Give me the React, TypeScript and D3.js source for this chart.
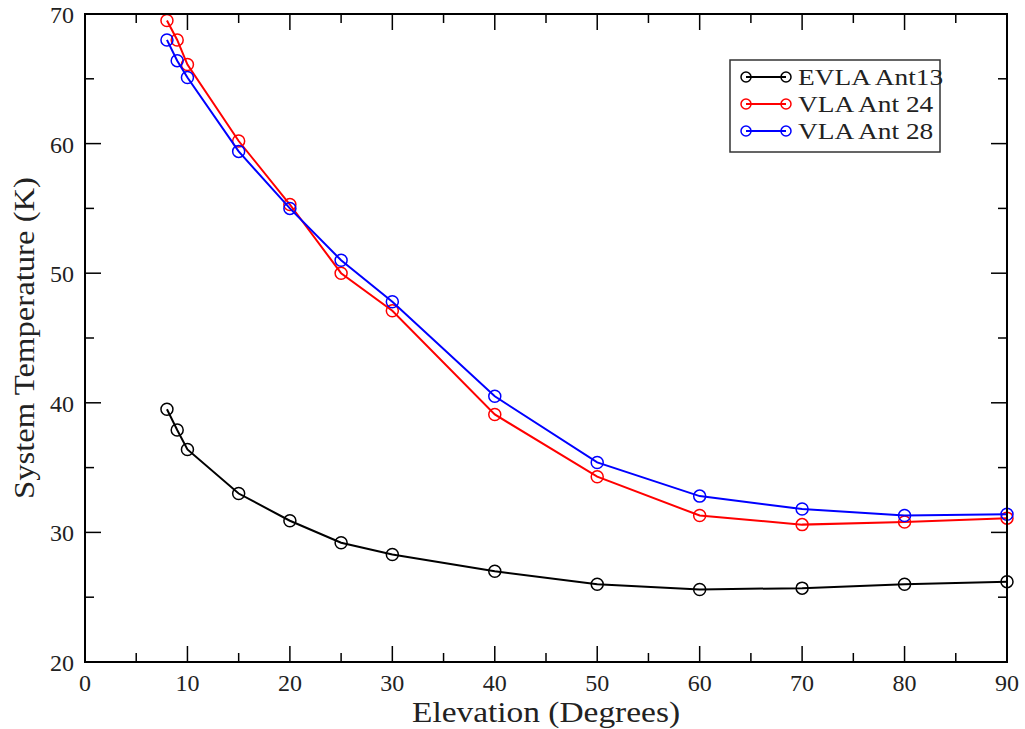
import React, { useEffect, useRef } from "react";
import * as d3 from "d3";

const elevation = [8, 9, 10, 15, 20, 25, 30, 40, 50, 60, 70, 80, 90];
const evlaAnt13 = [39.5, 37.9, 36.4, 33.0, 30.9, 29.2, 28.3, 27.0, 26.0, 25.6, 25.7, 26.0, 26.2];
const vlaAnt24 = [69.5, 68.0, 66.1, 60.2, 55.3, 50.0, 47.1, 39.1, 34.3, 31.3, 30.6, 30.8, 31.1];
const vlaAnt28 = [68.0, 66.4, 65.1, 59.4, 55.0, 51.0, 47.8, 40.5, 35.4, 32.8, 31.8, 31.3, 31.4];
const seriesNames = ["EVLA Ant13", "VLA Ant 24", "VLA Ant 28"];
const seriesColors = ["#000000", "#ff0000", "#0000ff"];
const xTicks = [0, 10, 20, 30, 40, 50, 60, 70, 80, 90];
const yTicks = [20, 30, 40, 50, 60, 70];

const App = () => {
  const ref = useRef<SVGSVGElement>(null);

  useEffect(() => {
    const svg = d3.select(ref.current);
    svg.selectAll("*").remove();

    const left = 85, right = 1007, top = 14, bottom = 662;
    const font = "'Liberation Serif', 'Times New Roman', serif";

    const x = d3.scaleLinear().domain([0, 90]).range([left, right]);
    const y = d3.scaleLinear().domain([20, 70]).range([bottom, top]);

    const allSeries = [evlaAnt13, vlaAnt24, vlaAnt28];

    // curves first, frame on top
    const line = d3
      .line<number>()
      .x((_, i) => x(elevation[i]))
      .y((d) => y(d));

    allSeries.forEach((vals, k) => {
      const g = svg.append("g");
      g.append("path")
        .attr("d", line(vals))
        .attr("fill", "none")
        .attr("stroke", seriesColors[k])
        .attr("stroke-width", 2);
      g.selectAll("circle")
        .data(vals)
        .enter()
        .append("circle")
        .attr("cx", (_, i) => x(elevation[i]))
        .attr("cy", (d) => y(d))
        .attr("r", 6)
        .attr("fill", "none")
        .attr("stroke", seriesColors[k])
        .attr("stroke-width", 1.5);
    });

    const frame = svg.append("g");
    frame
      .append("rect")
      .attr("x", left)
      .attr("y", top)
      .attr("width", right - left)
      .attr("height", bottom - top)
      .attr("fill", "none")
      .attr("stroke", "#000")
      .attr("stroke-width", 2);

    const majorLen = 16, minorLen = 9;
    const xMinor = d3.range(5, 90, 10);
    const yMinor = d3.range(25, 70, 10);

    const tick = (x1: number, y1: number, x2: number, y2: number) =>
      frame
        .append("line")
        .attr("x1", x1)
        .attr("y1", y1)
        .attr("x2", x2)
        .attr("y2", y2)
        .attr("stroke", "#000")
        .attr("stroke-width", 1.5);

    xTicks.forEach((v) => {
      tick(x(v), bottom, x(v), bottom - majorLen);
      tick(x(v), top, x(v), top + majorLen);
    });
    xMinor.forEach((v) => {
      tick(x(v), bottom, x(v), bottom - minorLen);
      tick(x(v), top, x(v), top + minorLen);
    });
    yTicks.forEach((v) => {
      tick(left, y(v), left + majorLen, y(v));
      tick(right, y(v), right - majorLen, y(v));
    });
    yMinor.forEach((v) => {
      tick(left, y(v), left + minorLen, y(v));
      tick(right, y(v), right - minorLen, y(v));
    });

    svg
      .append("g")
      .selectAll("text")
      .data(xTicks)
      .enter()
      .append("text")
      .attr("x", (d) => x(d))
      .attr("y", 691)
      .attr("text-anchor", "middle")
      .attr("font-family", font)
      .attr("font-size", 24)
      .attr("fill", "#222")
      .text((d) => d);

    svg
      .append("g")
      .selectAll("text")
      .data(yTicks)
      .enter()
      .append("text")
      .attr("x", 74)
      .attr("y", (d) => y(d) + 9)
      .attr("text-anchor", "end")
      .attr("font-family", font)
      .attr("font-size", 24)
      .attr("fill", "#222")
      .text((d) => d);

    svg
      .append("text")
      .attr("x", 546)
      .attr("y", 722)
      .attr("text-anchor", "middle")
      .attr("font-family", font)
      .attr("font-size", 30)
      .attr("textLength", 268)
      .attr("lengthAdjust", "spacingAndGlyphs")
      .attr("fill", "#222")
      .text("Elevation (Degrees)");

    svg
      .append("text")
      .attr("transform", `translate(34,${(top + bottom) / 2}) rotate(-90)`)
      .attr("text-anchor", "middle")
      .attr("font-family", font)
      .attr("font-size", 30)
      .attr("textLength", 322)
      .attr("lengthAdjust", "spacingAndGlyphs")
      .attr("fill", "#222")
      .text("System Temperature (K)");

    // legend
    const legend = svg.append("g");
    legend
      .append("rect")
      .attr("x", 730)
      .attr("y", 60)
      .attr("width", 210)
      .attr("height", 92)
      .attr("fill", "#fff")
      .attr("stroke", "#333")
      .attr("stroke-width", 1.5);

    seriesNames.forEach((name, k) => {
      const ly = 77 + k * 27;
      legend
        .append("line")
        .attr("x1", 746)
        .attr("x2", 786)
        .attr("y1", ly)
        .attr("y2", ly)
        .attr("stroke", seriesColors[k])
        .attr("stroke-width", 2);
      [746, 786].forEach((cx) =>
        legend
          .append("circle")
          .attr("cx", cx)
          .attr("cy", ly)
          .attr("r", 5)
          .attr("fill", "none")
          .attr("stroke", seriesColors[k])
          .attr("stroke-width", 1.5)
      );
      const t = legend
        .append("text")
        .attr("x", 798)
        .attr("y", ly + 8)
        .attr("font-family", font)
        .attr("font-size", 24)
        .attr("fill", "#222")
        .text(name);
      const w = (t.node() as SVGTextElement).getComputedTextLength();
      t.attr("textLength", w * 1.14).attr("lengthAdjust", "spacingAndGlyphs");
    });
  }, []);

  return (
    <svg
      ref={ref}
      width={1025}
      height={729}
      style={{ position: "absolute", left: 0, top: 0, background: "#fff" }}
    />
  );
};

export default App;
